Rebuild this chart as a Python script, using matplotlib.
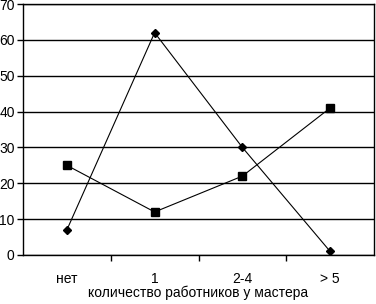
import matplotlib
matplotlib.use("Agg")
import matplotlib.pyplot as plt
import numpy as np

# Data
categories = ["нет", "1", "2-4", "> 5"]
series_diamond = [7, 62, 30, 1]
series_square = [25, 12, 22, 41]
y_ticks = [0, 10, 20, 30, 40, 50, 60, 70]

plt.rcParams["font.family"] = ["Liberation Sans", "DejaVu Sans"]

fig = plt.figure(figsize=(3.76, 3.04), dpi=100)
ax = fig.add_axes([23 / 376, 1 - 255 / 304, 351 / 376, 251 / 304])

x = np.arange(len(categories))

# Horizontal gridlines
ax.set_ylim(0, 70)
ax.set_yticks(y_ticks)
ax.yaxis.grid(True, color="black", linewidth=1)
ax.set_axisbelow(True)

ax.plot(x, series_diamond, color="black", linewidth=0.8, marker="D",
        markersize=4.5, markerfacecolor="black", markeredgecolor="black")
ax.plot(x, series_square, color="black", linewidth=0.8, marker="s",
        markersize=5.5, markerfacecolor="black", markeredgecolor="black")

ax.set_xlim(-0.5, len(categories) - 0.5)
ax.set_xticks(x)
ax.set_xticklabels(categories, fontsize=10)
ax.set_xticks(np.arange(0.5, len(categories) - 0.5, 1), minor=True)
ax.tick_params(axis="x", which="major", length=0, pad=12)
ax.tick_params(axis="x", which="minor", length=4, width=1, color="black")
ax.tick_params(axis="y", length=4, width=1, labelsize=10, pad=2)

for spine in ax.spines.values():
    spine.set_color("black")
    spine.set_linewidth(1)

ax.set_xlabel("количество работников у мастера", fontsize=10, labelpad=0)

fig.savefig("out.png", dpi=100)
